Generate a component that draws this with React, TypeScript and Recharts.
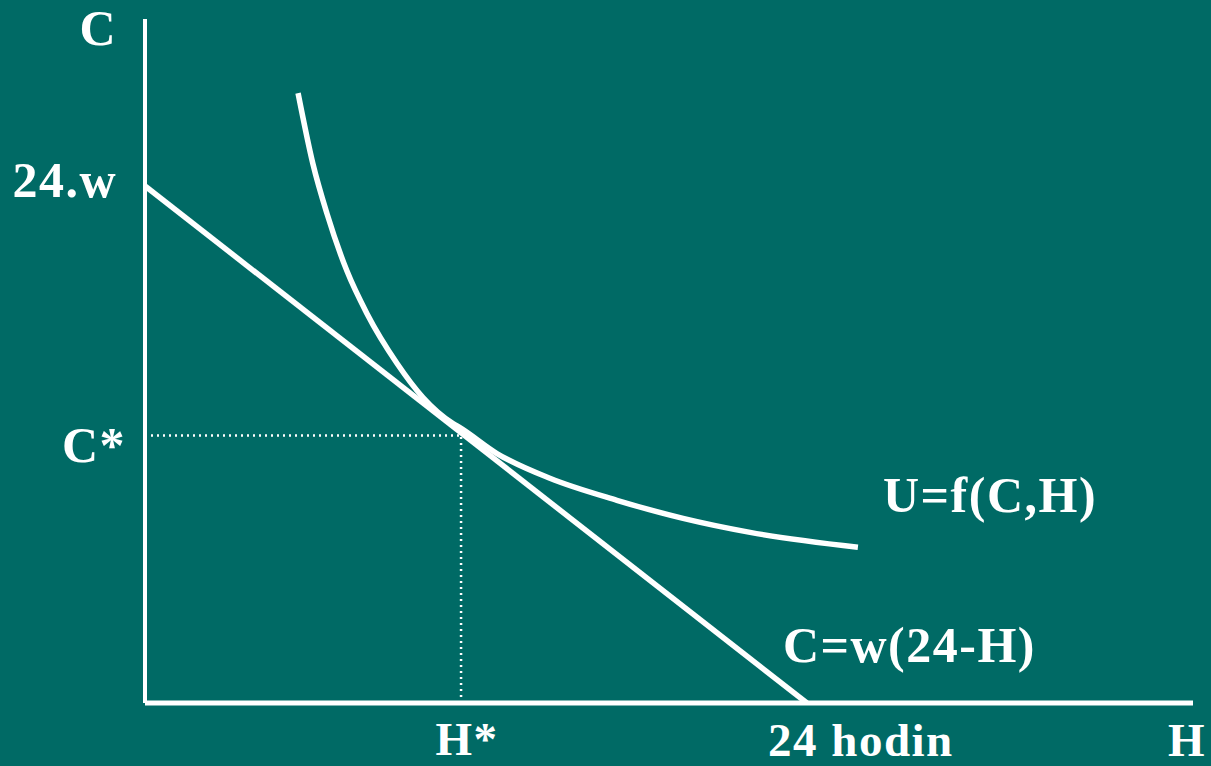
import React from 'react';
import { ComposedChart, Line, XAxis, YAxis, ReferenceLine, ReferenceDot } from 'recharts';

// indifference curve U=f(C,H) (H in hours, C in units of w)
const curveHours = [5.55, 6.09, 6.6, 7.32, 8.05, 9.14, 10.08, 11.17, 11.42, 12.76, 14.68, 17.11, 19.51, 21.94, 25.85];
const curveC = [28.31, 25.02, 22.71, 20.06, 18.07, 15.76, 14.18, 12.97, 12.78, 11.58, 10.43, 9.41, 8.57, 7.92, 7.23];

// budget line C = w(24 - H)
const budgetHours = [0, 24];
const budgetC = [24, 0];

// optimum
const hStar = 11.46;
const cStar = 12.42;

const xTicks = [hStar, 24, 38];
const xTickLabels = ['H*', '24 hodin', 'H'];
const yTicks = [cStar, 24, 31.75];
const yTickLabels = ['C*', '24.w', 'C'];

const BG = '#006a65';
const FONT = '"Liberation Serif", "Times New Roman", serif';

const curveData = curveHours.map((h, i) => ({ h, c: curveC[i] }));
const budgetData = budgetHours.map((h, i) => ({ h, c: budgetC[i] }));

const textStyle = {
  fill: '#fff',
  fontFamily: FONT,
  fontWeight: 700,
  fontSize: 50,
  letterSpacing: 1.5,
};

// bottom row sits close to the page edge, so a touch smaller
const bottomStyle = { ...textStyle, fontSize: 47 };

// per-label offsets from the tick point
const xOffsets: Record<string, [number, number]> = {
  'H*': [6, 52],
  '24 hodin': [54, 53],
  H: [-6, 53],
};
const yOffsets: Record<string, [number, number]> = {
  'C*': [-19, 27],
  '24.w': [-28, 11],
  C: [-28, 26],
};

const XTick = (props: any) => {
  const { x, y, payload } = props;
  const label = xTickLabels[xTicks.indexOf(payload.value)] ?? '';
  const [dx, dy] = xOffsets[label] || [0, 0];
  return (
    <text x={x + dx} y={y + dy} textAnchor="middle" style={bottomStyle}>
      {label}
    </text>
  );
};

const YTick = (props: any) => {
  const { x, y, payload } = props;
  const label = yTickLabels[yTicks.indexOf(payload.value)] ?? '';
  const [dx, dy] = yOffsets[label] || [0, 0];
  return (
    <text x={x + dx} y={y + dy} textAnchor="end" style={textStyle}>
      {label}
    </text>
  );
};

const Note = (text: string) => (props: any) => {
  const { viewBox } = props;
  return (
    <text x={viewBox.x} y={viewBox.y} textAnchor="start" style={textStyle}>
      {text}
    </text>
  );
};

const App: React.FC = () => {
  return (
    <div style={{ position: 'fixed', left: 0, top: 0, width: 1211, height: 766, background: BG }}>
      <ComposedChart width={1211} height={766} margin={{ top: 19, right: 18, left: 0, bottom: 0 }}>
        <XAxis
          type="number"
          dataKey="h"
          domain={[0, 38]}
          allowDataOverflow
          ticks={xTicks}
          interval={0}
          height={63}
          tickLine={false}
          tickSize={0}
          tickMargin={0}
          axisLine={{ stroke: '#fff', strokeWidth: 5 }}
          tick={<XTick />}
        />
        <YAxis
          type="number"
          dataKey="c"
          domain={[0, 31.75]}
          allowDataOverflow
          ticks={yTicks}
          interval={0}
          width={145}
          tickLine={false}
          tickSize={0}
          tickMargin={0}
          axisLine={{ stroke: '#fff', strokeWidth: 4 }}
          tick={<YTick />}
        />
        <ReferenceLine
          segment={[{ x: 0, y: cStar }, { x: hStar, y: cStar }]}
          stroke="#fff"
          strokeWidth={2.5}
          strokeDasharray="2 4"
        />
        <ReferenceLine
          segment={[{ x: hStar, y: 0 }, { x: hStar, y: cStar }]}
          stroke="#fff"
          strokeWidth={2.5}
          strokeDasharray="2 4"
        />
        <Line
          data={budgetData}
          dataKey="c"
          type="linear"
          stroke="#fff"
          strokeWidth={5.5}
          dot={false}
          activeDot={false}
          isAnimationActive={false}
        />
        <Line
          data={curveData}
          dataKey="c"
          type="monotone"
          stroke="#fff"
          strokeWidth={5.5}
          dot={false}
          activeDot={false}
          isAnimationActive={false}
        />
        <ReferenceDot x={26.76} y={8.85} r={0} label={Note('U=f(C,H)')} />
        <ReferenceDot x={23.13} y={1.9} r={0} label={Note('C=w(24-H)')} />
      </ComposedChart>
    </div>
  );
};

export default App;
